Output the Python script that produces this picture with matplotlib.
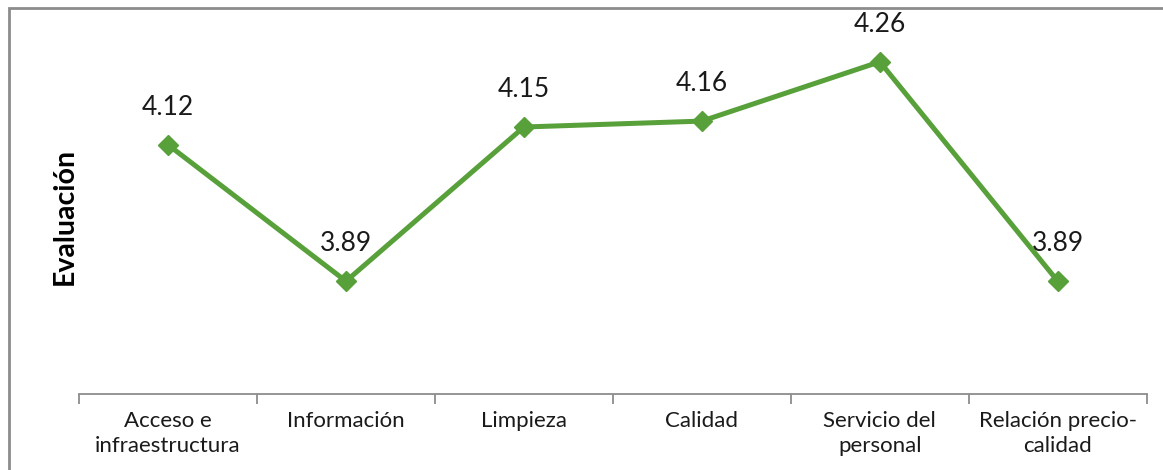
import numpy as np
import matplotlib.pyplot as plt
from matplotlib.patches import Rectangle

categorias = ["Acceso e\ninfraestructura", "Información", "Limpieza", "Calidad",
              "Servicio del\npersonal", "Relación precio-\ncalidad"]
evaluacion = [4.12, 3.89, 4.15, 4.16, 4.26, 3.89]

plt.rcParams['font.family'] = ['Lato', 'DejaVu Sans']

fig = plt.figure(figsize=(11.63, 4.70), dpi=100)
ax = fig.add_axes([0.068, 0.162, 0.918, 0.757])

x = np.arange(len(categorias))
verde = '#58a03a'
ax.plot(x, evaluacion, color=verde, lw=3.6, marker='D', ms=10, mfc=verde, mec=verde,
        solid_joinstyle='miter')
for xi, v in zip(x, evaluacion):
    ax.annotate(f"{v:.2f}", (xi, v), xytext=(0, 18), textcoords='offset points',
                ha='center', va='bottom', fontsize=19, color='#1a1a1a')

ax.set_xlim(-0.5, len(categorias) - 0.5)
ax.set_ylim(3.7, 4.3)
ax.set_yticks([])
for s in ['top', 'right', 'left']:
    ax.spines[s].set_visible(False)
ax.spines['bottom'].set_color('#8c8c8c')
ax.spines['bottom'].set_linewidth(1.3)

ax.set_xticks(x)
ax.set_xticklabels(categorias, fontsize=16, color='#1a1a1a', linespacing=1.35)
ax.tick_params(axis='x', which='major', length=0, pad=12)
ax.set_xticks(np.arange(len(categorias) + 1) - 0.5, minor=True)
ax.tick_params(axis='x', which='minor', length=7, width=1.3, color='#8c8c8c')

ax.set_ylabel("Evaluación", fontsize=20.5, fontweight='bold', labelpad=1)

# marco gris del gráfico
fig.patches.append(Rectangle((9 / 1163, -0.1), 1.2, 1 - 8 / 470 + 0.1,
                             transform=fig.transFigure, fill=False,
                             edgecolor='#8c8c8c', lw=2, clip_on=False))

fig.savefig('out.png', dpi=100)
